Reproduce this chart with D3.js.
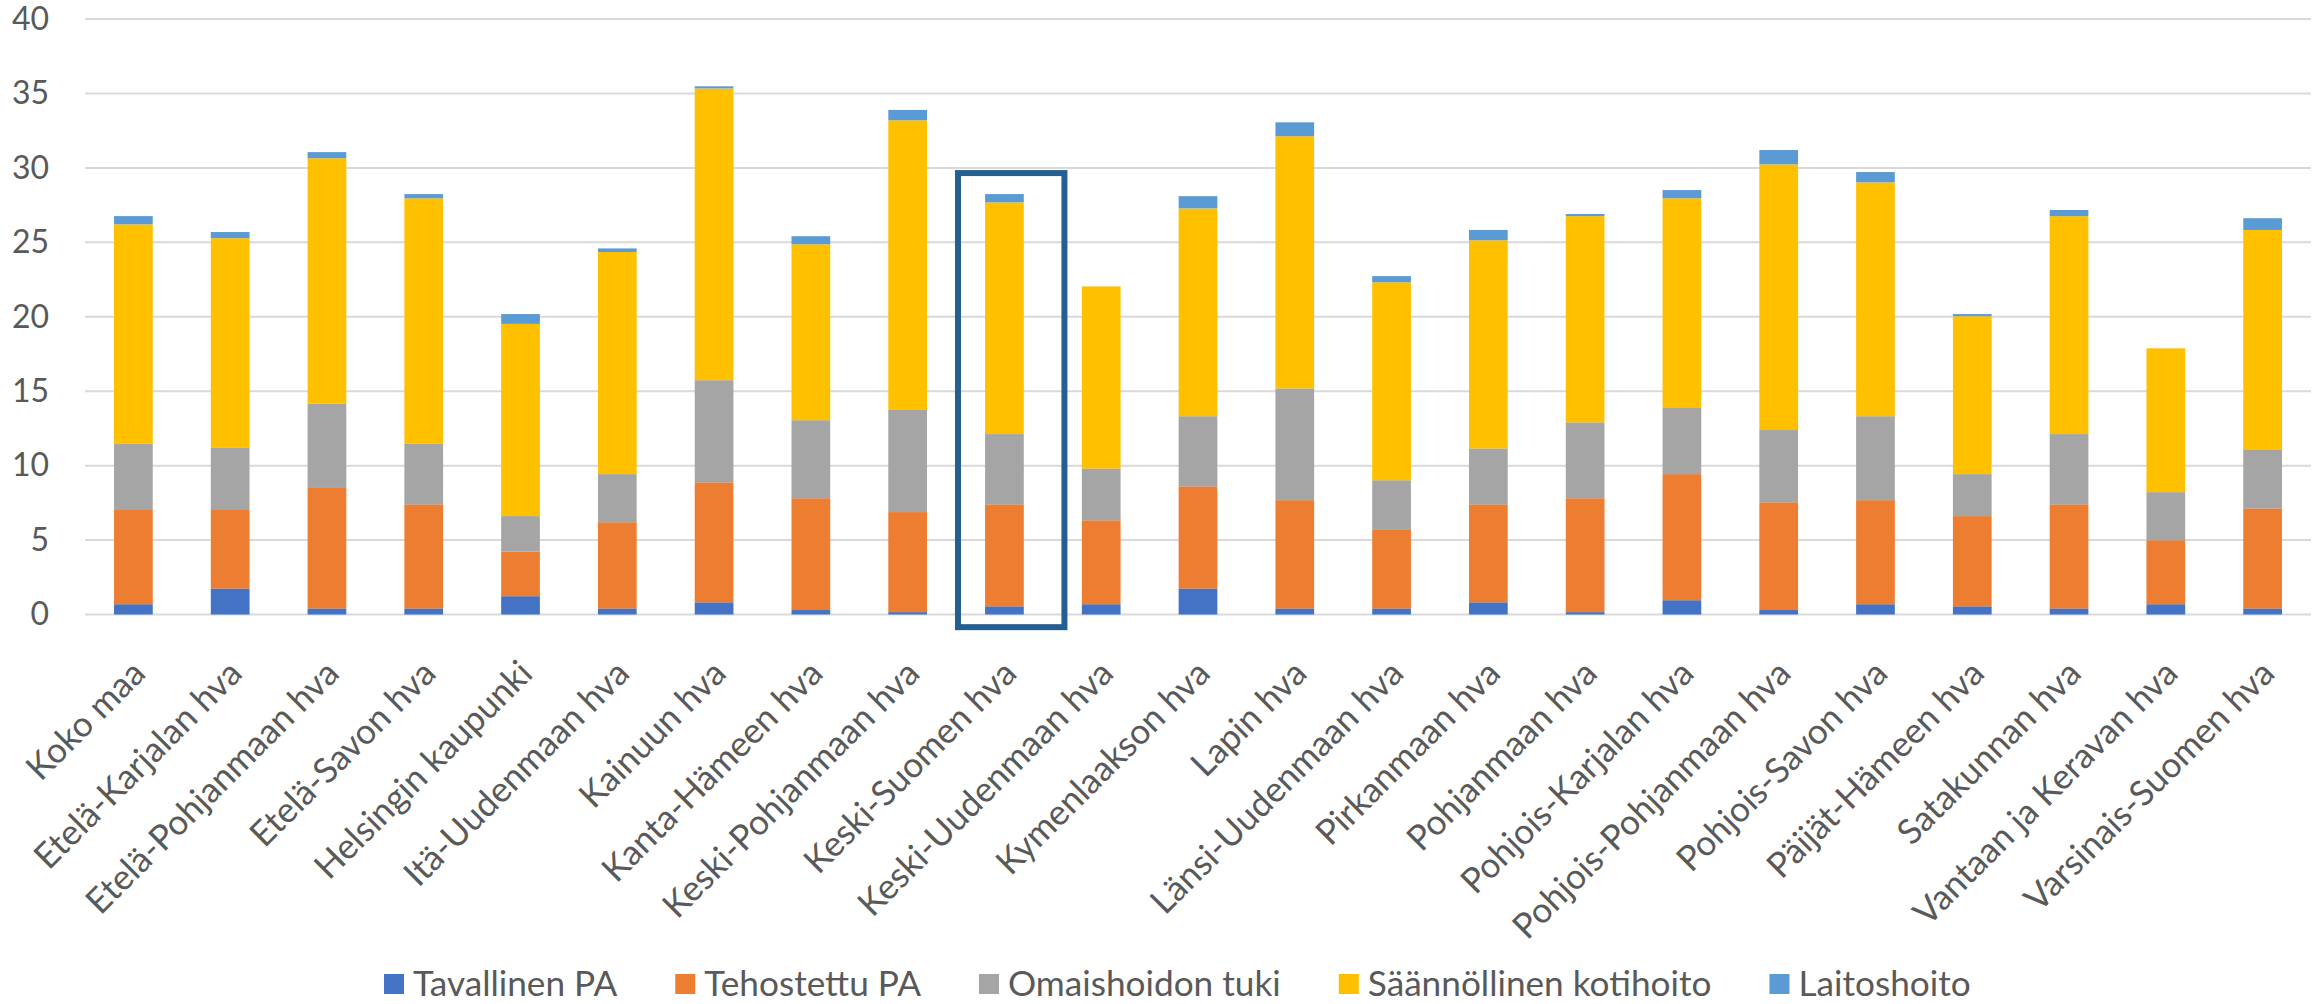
<!DOCTYPE html>
<html lang="fi">
<head>
<meta charset="utf-8">
<title>Palvelujen käyttö hyvinvointialueittain</title>
<script src="https://cdn.jsdelivr.net/npm/d3@7/dist/d3.min.js"></script>
<style>
  html, body { margin: 0; padding: 0; background: #ffffff; }
  svg { display: block; font-family: Lato, "Open Sans", sans-serif; }
</style>
</head>
<body>
<svg id="chart" width="2320" height="1004"></svg>
<script>
// Alueet (x-akselin luokat)
const categories = [
  "Koko maa", "Etelä-Karjalan hva", "Etelä-Pohjanmaan hva", "Etelä-Savon hva",
  "Helsingin kaupunki", "Itä-Uudenmaan hva", "Kainuun hva", "Kanta-Hämeen hva",
  "Keski-Pohjanmaan hva", "Keski-Suomen hva", "Keski-Uudenmaan hva", "Kymenlaakson hva",
  "Lapin hva", "Länsi-Uudenmaan hva", "Pirkanmaan hva", "Pohjanmaan hva",
  "Pohjois-Karjalan hva", "Pohjois-Pohjanmaan hva", "Pohjois-Savon hva", "Päijät-Hämeen hva",
  "Satakunnan hva", "Vantaan ja Keravan hva", "Varsinais-Suomen hva"
];

// Sarjojen nimet pinon järjestyksessä (alhaalta ylös)
const seriesNames = ["Tavallinen PA", "Tehostettu PA", "Omaishoidon tuki", "Säännöllinen kotihoito", "Laitoshoito"];

// Sarjojen arvot, yksi arvo kutakin aluetta kohden
const tavallinenPA = [0.69, 1.75, 0.41, 0.41, 1.23, 0.41, 0.82, 0.30, 0.16, 0.55, 0.69, 1.75, 0.41, 0.41, 0.82, 0.16, 0.96, 0.30, 0.69, 0.55, 0.41, 0.69, 0.41];
const tehostettuPA = [6.33, 5.27, 8.09, 6.99, 2.99, 5.79, 8.06, 7.51, 6.72, 6.85, 5.64, 6.86, 7.27, 5.27, 6.58, 7.65, 8.47, 7.24, 6.99, 6.06, 6.99, 4.30, 6.72];
const omaishoidonTuki = [4.44, 4.17, 5.65, 4.06, 2.39, 3.23, 6.86, 5.24, 6.86, 4.72, 3.48, 4.71, 7.51, 3.34, 3.76, 5.10, 4.44, 4.85, 5.64, 2.82, 4.72, 3.23, 3.92];
const kotihoito = [14.75, 14.09, 16.50, 16.50, 12.91, 14.92, 19.60, 11.82, 19.46, 15.57, 12.23, 13.96, 16.94, 13.30, 13.98, 13.85, 14.09, 17.85, 15.71, 10.61, 14.64, 9.66, 14.78];
const laitoshoito = [0.55, 0.41, 0.41, 0.28, 0.66, 0.24, 0.14, 0.54, 0.69, 0.55, 0.00, 0.82, 0.93, 0.41, 0.69, 0.14, 0.55, 0.96, 0.69, 0.14, 0.41, 0.00, 0.79];

// y-akselin jakoviivat
const yTicks = [0, 5, 10, 15, 20, 25, 30, 35, 40];

// Korostettu alue ja korostuskehyksen arvoväli
const highlighted = "Keski-Suomen hva";
const highlightRange = [-0.85, 29.65];

const seriesColors = ["#4472C4", "#ED7D31", "#A5A5A5", "#FFC000", "#5B9BD5"];
const seriesValues = [tavallinenPA, tehostettuPA, omaishoidonTuki, kotihoito, laitoshoito];

// Taulukko pinoa varten
const table = categories.map((c, i) => {
  const row = { category: c };
  seriesNames.forEach((s, k) => { row[s] = seriesValues[k][i]; });
  return row;
});

const svg = d3.select("#chart");
const textColor = "#595959";

const x = d3.scaleBand()
  .domain(categories)
  .range([85, 2311])
  .paddingInner(0.6)
  .paddingOuter(0.3);

const y = d3.scaleLinear()
  .domain([0, 40])
  .range([614.5, 19]);

const color = d3.scaleOrdinal().domain(seriesNames).range(seriesColors);

// Vaakasuorat jakoviivat
svg.append("g")
  .selectAll("line")
  .data(yTicks)
  .join("line")
  .attr("x1", x.range()[0])
  .attr("x2", x.range()[1])
  .attr("y1", d => y(d))
  .attr("y2", d => y(d))
  .attr("stroke", "#D9D9D9")
  .attr("stroke-width", 2);

// y-akselin luvut
const yAxis = svg.append("g")
  .attr("transform", `translate(${x.range()[0]},0)`)
  .call(d3.axisLeft(y).tickValues(yTicks).tickSize(0).tickPadding(36));
yAxis.select(".domain").remove();
yAxis.selectAll("text")
  .attr("fill", textColor)
  .style("font-size", "32px")
  .style("font-family", "Lato, sans-serif");

// Pinotut pylväät
const stacked = d3.stack().keys(seriesNames)(table);
svg.append("g")
  .selectAll("g")
  .data(stacked)
  .join("g")
  .attr("fill", d => color(d.key))
  .selectAll("rect")
  .data(d => d)
  .join("rect")
  .attr("x", d => x(d.data.category))
  .attr("width", x.bandwidth())
  .attr("y", d => y(d[1]))
  .attr("height", d => Math.max(0, y(d[0]) - y(d[1])));

// x-akselin luokkanimet vinossa
const xAxis = svg.append("g")
  .attr("transform", `translate(0,${y(0)})`)
  .call(d3.axisBottom(x).tickSize(0));
xAxis.select(".domain").remove();
xAxis.selectAll("text")
  .attr("x", 0)
  .attr("y", 0)
  .attr("dy", 0)
  .attr("text-anchor", "end")
  .attr("transform", "translate(14,61) rotate(-45)")
  .attr("fill", textColor)
  .style("font-size", "35px")
  .style("font-family", "Lato, sans-serif");

// Korostuskehys valitun alueen ympärillä
const step = x.step();
svg.append("rect")
  .attr("x", x(highlighted) - step * 0.28)
  .attr("y", y(highlightRange[1]))
  .attr("width", step * 1.10)
  .attr("height", y(highlightRange[0]) - y(highlightRange[1]))
  .attr("fill", "none")
  .attr("stroke", "#255E91")
  .attr("stroke-width", 6);

// Selite
const legend = svg.append("g");
const items = legend.selectAll("g")
  .data(seriesNames)
  .join("g");
items.append("rect")
  .attr("width", 20)
  .attr("height", 20)
  .attr("y", -10)
  .attr("fill", d => color(d));
items.append("text")
  .attr("x", 29)
  .attr("y", 12)
  .attr("fill", textColor)
  .style("font-size", "35.2px")
  .style("font-family", "Lato, sans-serif")
  .text(d => d);

let offset = 0;
const gap = 58;
items.each(function () {
  const g = d3.select(this);
  const w = 29 + g.select("text").node().getComputedTextLength();
  g.attr("transform", `translate(${offset},0)`);
  offset += w + gap;
});
legend.attr("transform", "translate(384,984)");
</script>
</body>
</html>
